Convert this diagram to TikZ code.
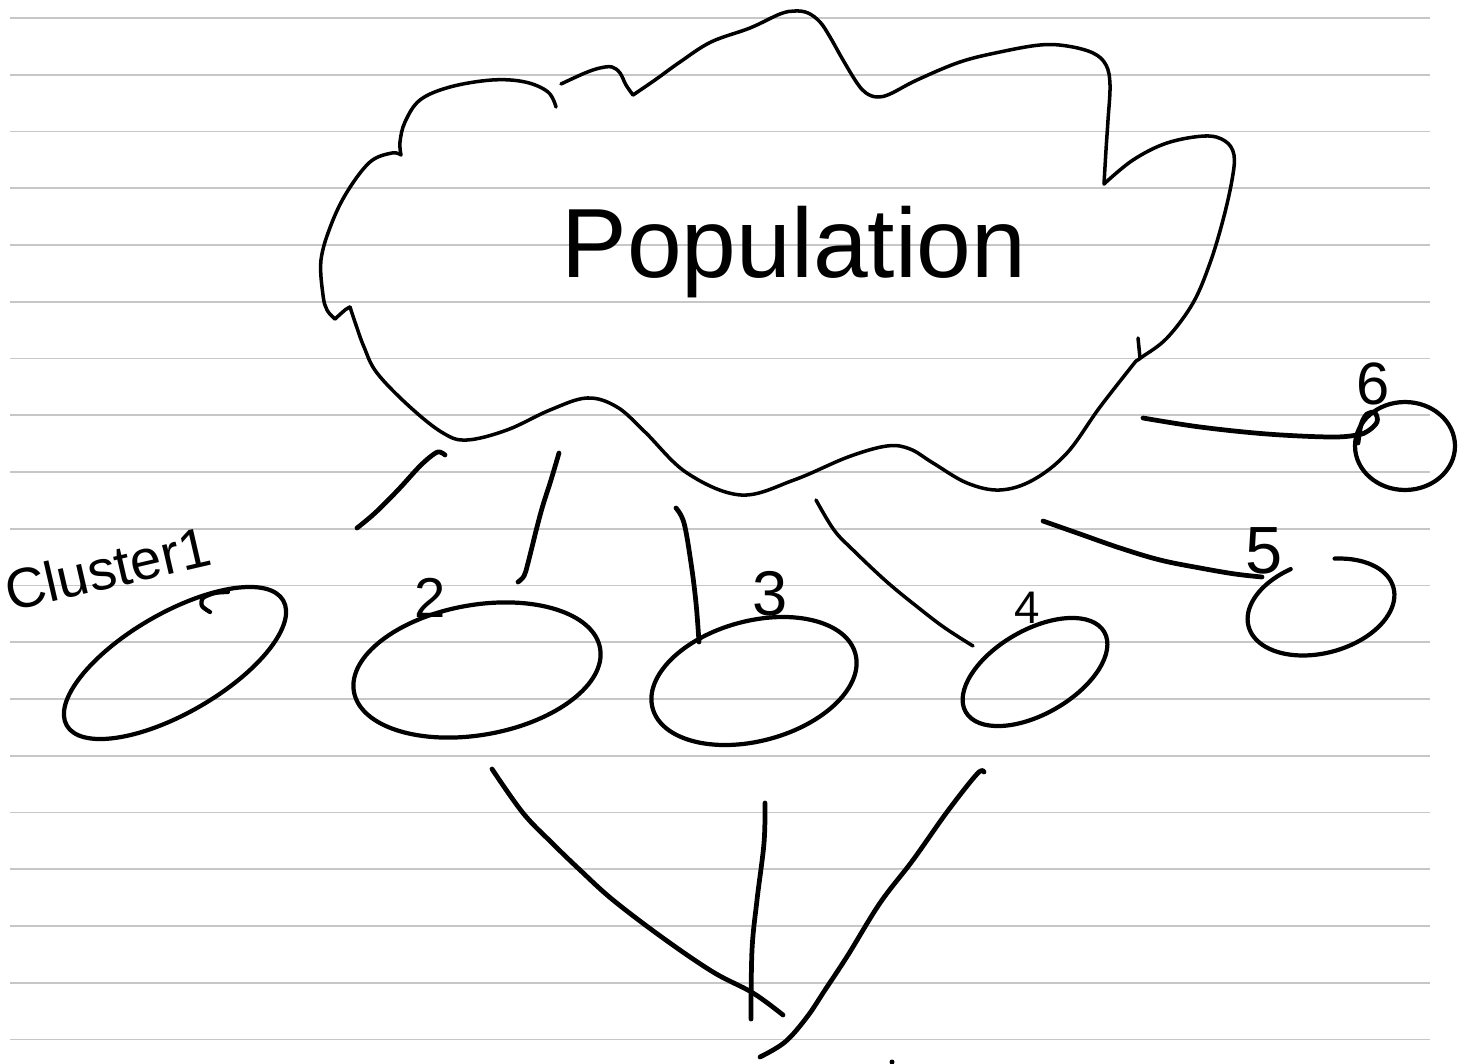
\documentclass[tikz,border=0pt]{standalone}
\usepackage{fontspec}
\setmainfont{Liberation Sans}
\usetikzlibrary{shapes.geometric}
\begin{document}
\begin{tikzpicture}[x=0.02cm,y=-0.02cm,
  ruling/.style={draw=black!22, line width=1.1pt},
  cloudline/.style={line width=2pt, line cap=round, line join=round},
  conn/.style={line width=2.7pt, line cap=round, line join=round},
  cluster/.style={draw, ellipse, line width=2.4pt, inner sep=0pt},
  clusterline/.style={line width=2.4pt, line cap=round, line join=round},
  numlabel/.style={inner sep=0pt, font=\fontsize{#1}{#1}\selectfont},
  numlabel/.default=32,
]
\useasboundingbox[fill=white] (0,0) rectangle (1467,1064);
% ruled paper
\foreach \k in {0,...,18} \draw[ruling] (10,{18+56.75*\k}) -- (1430,{18+56.75*\k});

% cloud (population)
\draw[cloudline] plot[smooth, tension=0.6] coordinates {(556,107) (548,92) (525,82) (492,80) (450,87) (420,100) (405,122) (400,142) (401,155)};
\draw[cloudline] plot[smooth, tension=0.6] coordinates {(401,155) (392,153) (370,162) (347,192) (331,225) (321,260) (323,295) (327,310) (335,319)};
\draw[cloudline] plot[smooth, tension=0.6] coordinates {(335,319) (345,310) (350,307)};
\draw[cloudline] plot[smooth, tension=0.6] coordinates {(350,307) (356,325) (364,347) (377,373) (410,407) (443,433) (467,440) (507,430) (550,410) (587,398) (617,407) (645,432) (687,473) (741,495) (794,480) (848,457) (887,446) (910,449) (933,463) (967,483) (1000,490) (1033,480) (1067,453) (1100,407) (1136,361)};
\draw[cloudline] (1138,338) -- (1140,358);
\draw[cloudline] plot[smooth, tension=0.6] coordinates {(1136,361) (1142,357) (1167,338) (1193,303) (1210,263) (1223,220) (1232,180) (1234,155) (1225,141) (1205,136) (1167,143) (1133,160) (1104,184)};
\draw[cloudline] plot[smooth, tension=0.6] coordinates {(1104,184) (1106,150) (1108,120) (1110,85) (1106,65) (1093,53) (1067,46) (1040,45) (1000,52) (960,62) (917,80) (890,94) (877,97) (866,93) (857,83) (843,60) (830,37) (820,22) (808,13) (795,11) (780,14) (750,28) (711,42) (680,62) (655,80) (633,95)};
\draw[cloudline] plot[smooth, tension=0.6] coordinates {(633,95) (626,85) (620,73) (612,67) (600,68) (585,73) (561,84)};

\node[inner sep=0pt, anchor=base, font=\fontsize{56}{56}\selectfont] (pop) at (794,277) {Population};

% clusters
\node[cluster, minimum width=5cm, minimum height=2cm, rotate=30] (c1) at (175,663) {};
\draw[clusterline] plot[smooth] coordinates {(210,612) (202,606) (203,598) (215,593) (228,592)};
\node[cluster, minimum width=5cm, minimum height=2.6cm, rotate=10] (c2) at (477,670) {};
\node[cluster, minimum width=4.2cm, minimum height=2.4cm, rotate=15] (c3) at (754,681) {};
\node[cluster, minimum width=3.2cm, minimum height=1.68cm, rotate=30] (c4) at (1035,672) {};
\coordinate (c5) at (1321,607);
\draw[clusterline] plot[domain=-255:70, samples=80, smooth, variable=\t] ({1321 + 75*cos(\t)*cos(15) - 46*sin(\t)*sin(15)}, {607 - 75*cos(\t)*sin(15) - 46*sin(\t)*cos(15)});
\node[cluster, minimum width=2cm, minimum height=1.76cm] (c6) at (1405,446) {};

% labels
\node[inner sep=0pt, anchor=base, rotate=13, font=\fontsize{32}{32}\selectfont] (l1) at (112,588) {Cluster1};
\node[numlabel=32] (l2) at (430,598) {2};
\node[numlabel=36] (l3) at (770,594) {3};
\node[numlabel=26] (l4) at (1027,608) {4};
\node[numlabel=38] (l5) at (1264,551) {5};
\node[numlabel=34] (l6) at (1373,384) {6};

% connectors from the cloud to the clusters
\coordinate (s1) at (445,455); \coordinate (e1) at (357,528);
\draw[conn] plot[smooth, tension=0.6] coordinates {(s1) (440,452) (434,454) (420,466) (398,490) (375,513) (e1)};
\coordinate (s2) at (559,453); \coordinate (e2) at (518,582);
\draw[conn] plot[smooth, tension=0.6] coordinates {(s2) (551,480) (543,505) (537,527) (528,563) (524,576) (e2)};
\coordinate (s3) at (676,508); \coordinate (e3) at (699,642);
\draw[conn] plot[smooth, tension=0.6] coordinates {(s3) (684,523) (691,563) (696,603) (e3)};
\coordinate (s4) at (816,500); \coordinate (e4) at (973,646);
\draw[cloudline] plot[smooth, tension=0.6] coordinates {(s4) (834,530) (853,550) (887,582) (920,609) (945,628) (e4)};
\coordinate (s5) at (1043,521); \coordinate (e5) at (1262,577);
\draw[conn] plot[smooth, tension=0.6] coordinates {(s5) (1080,534) (1120,548) (1160,560) (1200,568) (1235,574) (e5)};
\coordinate (s6) at (1143,418); \coordinate (e6) at (1358,443);
\draw[conn] plot[smooth, tension=0.6] coordinates {(s6) (1200,427) (1267,434) (1330,437) (1357,435) (1368,431) (1377,422) (1375,413) (1367,414) (1361,425) (e6)};

% lines merging below
\coordinate (b1s) at (492,769); \coordinate (b1e) at (783,1015);
\draw[conn] plot[smooth, tension=0.6] coordinates {(b1s) (523,813) (552,843) (580,870) (613,900) (663,938) (713,972) (753,993) (b1e)};
\coordinate (b2s) at (765,803); \coordinate (b2e) at (751,1019);
\draw[conn] plot[smooth, tension=0.6] coordinates {(b2s) (764,843) (757,900) (752,950) (b2e)};
\coordinate (b3s) at (984,772); \coordinate (b3e) at (760,1057);
\draw[conn] plot[smooth, tension=0.6] coordinates {(b3s) (977,774) (947,812) (913,860) (880,903) (848,955) (825,990) (807,1017) (785,1042) (b3e)};
\fill (892,1062) circle[radius=2.5];
\end{tikzpicture}
\end{document}
